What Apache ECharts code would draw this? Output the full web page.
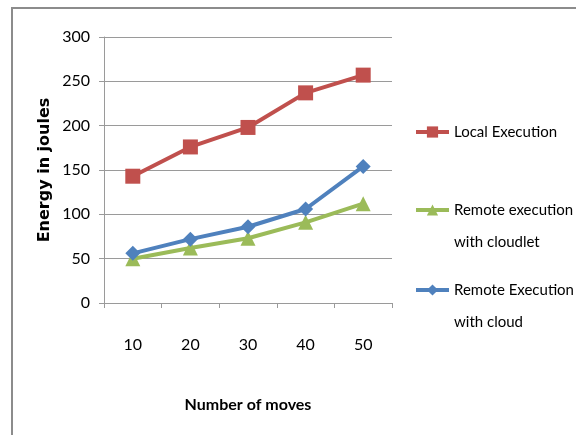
<!DOCTYPE html>
<html>
<head>
<meta charset="utf-8">
<script src="https://cdn.jsdelivr.net/npm/echarts@6/dist/echarts.min.js"></script>
<style>
  html, body { margin: 0; padding: 0; background: #fff; }
  #chart { width: 576px; height: 435px; }
</style>
</head>
<body>
<div id="chart"></div>
<script>
// Number of moves on the x axis
const moves = ['10', '20', '30', '40', '50'];
// Energy consumed (joules) for each execution mode
const localExecution = [143, 176, 198, 237, 257];
const remoteCloudlet = [50, 62, 73, 91, 112];
const remoteCloud = [56, 72, 86, 106, 154];
// Y axis scale
const yMin = 0, yMax = 300, yStep = 50;

const labelFont = 'Lato, "Open Sans", sans-serif';
const names = ['Local Execution', 'Remote execution\nwith cloudlet', 'Remote Execution\nwith cloud'];
const colors = ['#C0504D', '#9BBB59', '#4F81BD'];
const symbols = ['rect', 'triangle', 'diamond'];
const values = [localExecution, remoteCloudlet, remoteCloud];

const chart = echarts.init(document.getElementById('chart'), null, { renderer: 'canvas' });

// one legend block per series; two-line names get a leading blank line
// so the icon sits level with the first line of text
const legendTops = [116, 162, 242];
const legends = names.map((n, i) => ({
  data: [n],
  left: 414,
  top: legendTops[i],
  orient: 'vertical',
  padding: 0,
  itemWidth: 33,
  itemHeight: 14,
  itemGap: 0,
  lineStyle: { width: 4 },
  formatter: (name) => (name.indexOf('\n') >= 0 ? '\n' + name : name),
  textStyle: {
    fontFamily: labelFont,
    fontSize: 15,
    color: '#000',
    lineHeight: 32
  }
}));

chart.setOption({
  animation: false,
  backgroundColor: '#fff',
  graphic: [{
    type: 'rect',
    shape: { x: 12, y: 8, width: 700, height: 600 },
    style: { fill: 'none', stroke: '#8c8c8c', lineWidth: 2 },
    silent: true
  }],
  grid: { left: 104, right: 184, top: 37, bottom: 132 },
  legend: legends,
  xAxis: {
    type: 'category',
    data: moves,
    boundaryGap: true,
    name: 'Number of moves',
    nameLocation: 'middle',
    nameGap: 94,
    nameTextStyle: { fontFamily: labelFont, fontSize: 16, fontWeight: 'bold', color: '#000' },
    axisLine: { lineStyle: { color: '#9a9a9a', width: 1 } },
    axisTick: { show: true, length: 5, lineStyle: { color: '#9a9a9a' } },
    axisLabel: { margin: 34, fontFamily: labelFont, fontSize: 16, color: '#000' }
  },
  yAxis: {
    type: 'value',
    min: yMin,
    max: yMax,
    interval: yStep,
    name: 'Energy in joules',
    nameLocation: 'middle',
    nameGap: 51,
    nameTextStyle: { fontFamily: '"DejaVu Sans", sans-serif', fontSize: 16, fontWeight: 'bold', color: '#000' },
    axisLine: { show: true, lineStyle: { color: '#9a9a9a', width: 1 } },
    axisTick: { show: true, length: 5, lineStyle: { color: '#9a9a9a' } },
    splitLine: { show: true, lineStyle: { color: '#9a9a9a', width: 1 } },
    axisLabel: { margin: 14, fontFamily: labelFont, fontSize: 16, color: '#000' }
  },
  series: names.map((n, i) => ({
    name: n,
    type: 'line',
    data: values[i],
    symbol: symbols[i],
    symbolSize: 15,
    showSymbol: true,
    lineStyle: { color: colors[i], width: 4 },
    itemStyle: { color: colors[i] },
    z: 2 + i
  }))
});
</script>
</body>
</html>
